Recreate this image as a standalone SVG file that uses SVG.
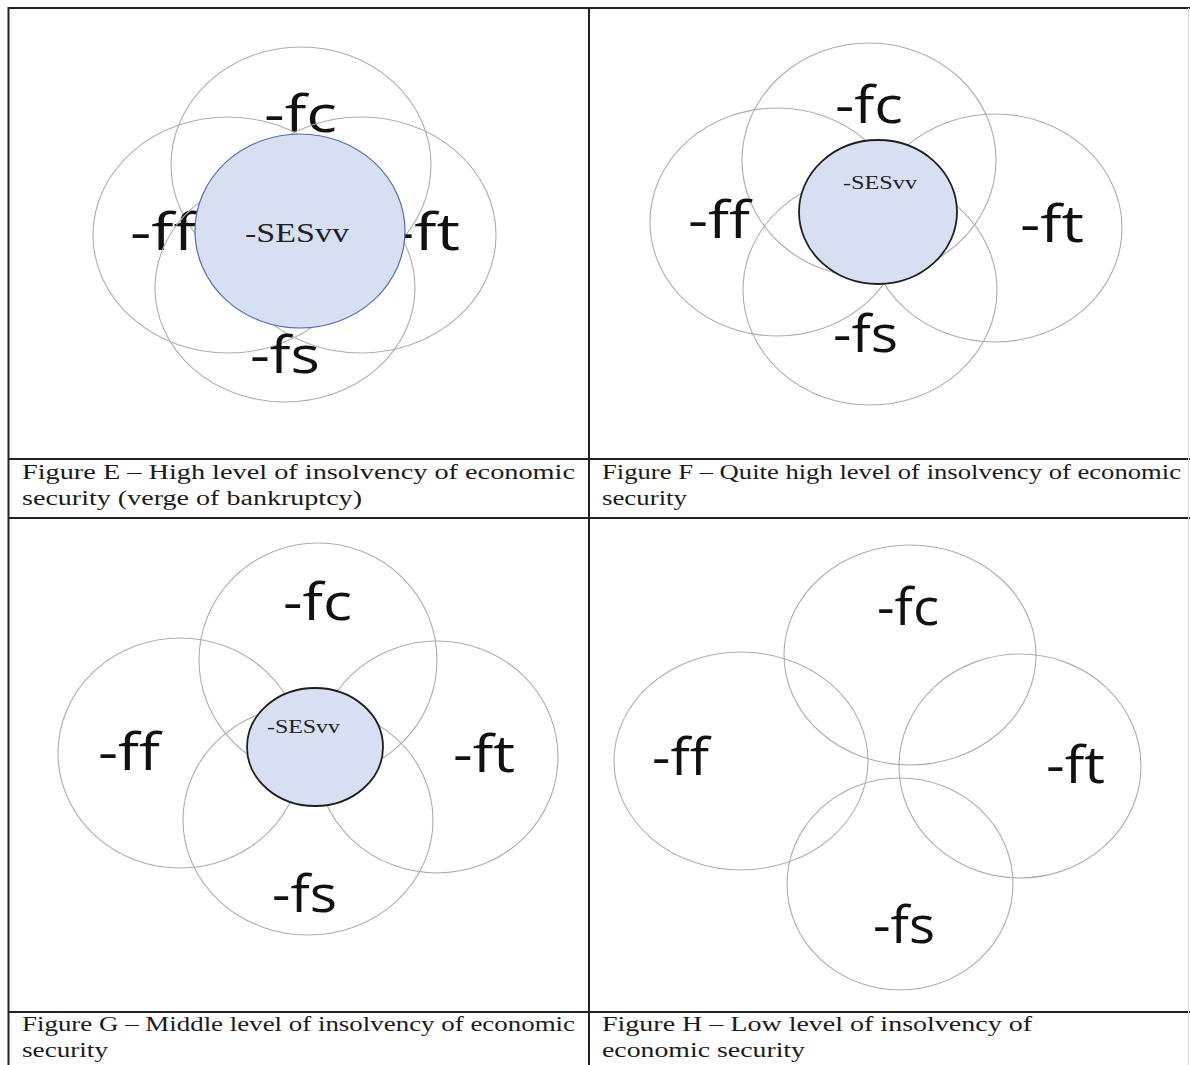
<svg xmlns="http://www.w3.org/2000/svg" width="1190" height="1065" viewBox="0 0 1190 1065">
<style>
.bg{fill:#ffffff}
.grid{stroke:#222;stroke-width:2;fill:none}
.ring{fill:none;stroke:#adadad;stroke-width:1.1}
.coreE{fill:#d7e0f2;stroke:#4f6fb0;stroke-width:1.2}
.core{fill:#d7e0f2;stroke:#1e1e1e;stroke-width:1.8}
.lbl{font-family:"Open Sans","Liberation Sans",sans-serif;font-size:52px;fill:#111}
.ses{font-family:"Liberation Serif",serif;fill:#222}
.cap{font-family:"Liberation Serif",serif;font-size:20.5px;fill:#1a1a1a}
</style>
<rect class="bg" x="0" y="0" width="1190" height="1065"/>

<g id="table">
<line class="grid" x1="8" y1="8" x2="1190" y2="8"/>
<line class="grid" x1="8.5" y1="7" x2="8.5" y2="1065"/>
<line class="grid" x1="589" y1="7" x2="589" y2="1065"/>
<line class="grid" x1="8" y1="459" x2="1190" y2="459"/>
<line class="grid" x1="8" y1="518" x2="1190" y2="518"/>
<line class="grid" x1="8" y1="1012" x2="1190" y2="1012"/>
<line x1="1188.5" y1="8" x2="1188.5" y2="1065" stroke="#d8d8d8" stroke-width="1"/>
</g>

<g id="connectors"></g>

<!-- Figure E -->
<g id="figE">
<g id="E-fc"><ellipse class="ring" cx="301" cy="165" rx="130" ry="118"/><text class="lbl" x="264" y="132" textLength="73" lengthAdjust="spacingAndGlyphs">-fc</text></g>
<g id="E-ff"><ellipse class="ring" cx="228" cy="235" rx="135" ry="118"/><text class="lbl" x="130" y="250" textLength="66" lengthAdjust="spacingAndGlyphs">-ff</text></g>
<g id="E-ft"><ellipse class="ring" cx="361" cy="235" rx="135" ry="118"/><text class="lbl" x="393" y="250" textLength="67" lengthAdjust="spacingAndGlyphs">-ft</text></g>
<g id="E-fs"><ellipse class="ring" cx="285" cy="288" rx="130" ry="114"/><text class="lbl" x="250" y="373" textLength="70" lengthAdjust="spacingAndGlyphs">-fs</text></g>
<g id="E-SESvv"><ellipse class="coreE" cx="300" cy="231" rx="105" ry="97"/><text class="ses" x="245" y="242" font-size="27" textLength="104" lengthAdjust="spacingAndGlyphs">-SESvv</text></g>
</g>

<!-- Figure F -->
<g id="figF">
<g id="F-fc"><ellipse class="ring" cx="869" cy="160" rx="127" ry="117"/><text class="lbl" x="835" y="123" textLength="68" lengthAdjust="spacingAndGlyphs">-fc</text></g>
<g id="F-ff"><ellipse class="ring" cx="777" cy="222" rx="127" ry="114"/><text class="lbl" x="688" y="238" textLength="62" lengthAdjust="spacingAndGlyphs">-ff</text></g>
<g id="F-ft"><ellipse class="ring" cx="995" cy="228" rx="127" ry="114"/><text class="lbl" x="1020" y="242" textLength="64" lengthAdjust="spacingAndGlyphs">-ft</text></g>
<g id="F-fs"><ellipse class="ring" cx="870" cy="290" rx="127" ry="115"/><text class="lbl" x="833" y="352" textLength="65" lengthAdjust="spacingAndGlyphs">-fs</text></g>
<g id="F-SESvv"><ellipse class="core" cx="878" cy="212" rx="79" ry="72"/><text class="ses" x="843" y="189" font-size="19" textLength="74" lengthAdjust="spacingAndGlyphs">-SESvv</text></g>
</g>

<!-- Figure G -->
<g id="figG">
<g id="G-fc"><ellipse class="ring" cx="318" cy="660" rx="119" ry="117"/><text class="lbl" x="283" y="620" textLength="69" lengthAdjust="spacingAndGlyphs">-fc</text></g>
<g id="G-ff"><ellipse class="ring" cx="180" cy="753" rx="122" ry="115"/><text class="lbl" x="98" y="770" textLength="62" lengthAdjust="spacingAndGlyphs">-ff</text></g>
<g id="G-ft"><ellipse class="ring" cx="437" cy="757" rx="121" ry="116"/><text class="lbl" x="453" y="772" textLength="62" lengthAdjust="spacingAndGlyphs">-ft</text></g>
<g id="G-fs"><ellipse class="ring" cx="308" cy="820" rx="125" ry="115"/><text class="lbl" x="272" y="912" textLength="65" lengthAdjust="spacingAndGlyphs">-fs</text></g>
<g id="G-SESvv"><ellipse class="core" cx="315" cy="747" rx="68" ry="59"/><text class="ses" x="267" y="733" font-size="19" textLength="73" lengthAdjust="spacingAndGlyphs">-SESvv</text></g>
</g>

<!-- Figure H -->
<g id="figH">
<g id="H-fc"><ellipse class="ring" cx="910" cy="655" rx="126" ry="110"/><text class="lbl" x="877" y="625" textLength="62" lengthAdjust="spacingAndGlyphs">-fc</text></g>
<g id="H-ff"><ellipse class="ring" cx="741" cy="761" rx="127" ry="109"/><text class="lbl" x="652" y="775" textLength="57" lengthAdjust="spacingAndGlyphs">-ff</text></g>
<g id="H-ft"><ellipse class="ring" cx="1020" cy="766" rx="121" ry="112"/><text class="lbl" x="1046" y="783" textLength="59" lengthAdjust="spacingAndGlyphs">-ft</text></g>
<g id="H-fs"><ellipse class="ring" cx="900" cy="884" rx="113" ry="106"/><text class="lbl" x="873" y="943" textLength="62" lengthAdjust="spacingAndGlyphs">-fs</text></g>
</g>

<!-- Captions -->
<g id="captions">
<text class="cap" x="22" y="479" textLength="553" lengthAdjust="spacingAndGlyphs">Figure E – High level of insolvency of economic</text>
<text class="cap" x="22" y="505" textLength="340" lengthAdjust="spacingAndGlyphs">security (verge of bankruptcy)</text>
<text class="cap" x="602" y="479" textLength="579" lengthAdjust="spacingAndGlyphs">Figure F – Quite high level of insolvency of economic</text>
<text class="cap" x="602" y="505" textLength="85" lengthAdjust="spacingAndGlyphs">security</text>
<text class="cap" x="22" y="1031" textLength="553" lengthAdjust="spacingAndGlyphs">Figure G – Middle level of insolvency of economic</text>
<text class="cap" x="22" y="1057" textLength="86" lengthAdjust="spacingAndGlyphs">security</text>
<text class="cap" x="602" y="1031" textLength="430" lengthAdjust="spacingAndGlyphs">Figure H – Low level of insolvency of</text>
<text class="cap" x="602" y="1057" textLength="203" lengthAdjust="spacingAndGlyphs">economic security</text>
</g>
</svg>
